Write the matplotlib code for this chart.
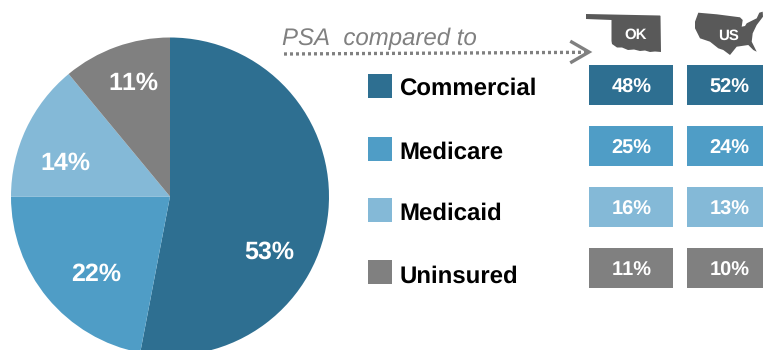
import matplotlib
matplotlib.use("Agg")
import matplotlib.pyplot as plt
from matplotlib.patches import Polygon, Rectangle

plt.rcParams['font.family'] = ['Liberation Sans', 'DejaVu Sans']
plt.rcParams['text.hinting'] = 'no_hinting'
plt.rcParams['text.hinting_factor'] = 1
plt.rcParams['text.kerning_factor'] = 16

W, H = 763, 350

categories = ["Commercial", "Medicare", "Medicaid", "Uninsured"]
colors = ["#2e6f91", "#4f9dc6", "#84b9d7", "#808080"]
psa_share = [53, 22, 14, 11]
ok_share = [48, 25, 16, 11]
us_share = [52, 24, 13, 10]

# rows of the table, top edge of tile / top edge of legend square
tile_tops = [65, 126, 187, 248]
square_tops = [74, 137, 198, 260]
label_baselines = [95, 158.7, 220.2, 282.3]

# rough state and country silhouettes
ok_shape = [(586, 14), (660, 15.5), (660.5, 16), (661, 52), (655, 51.5), (650, 52), (645, 50.5),
            (640, 51), (634, 49.5), (628, 50), (622, 47.5), (617, 47.5), (612, 44), (611.5, 41),
            (611.5, 20), (586, 19)]
us_shape = [(698.3, 12.7), (716.7, 14.3), (740, 17.3), (742.7, 20), (741.7, 26.7), (745, 26),
            (746.7, 23.3), (756.7, 18.3), (759.3, 12.7), (762.7, 11.7), (763, 16.7), (756.7, 25),
            (752.7, 33.3), (751.7, 41.7), (756.7, 51.7), (753.3, 50), (748.3, 45), (736.7, 46.7),
            (730, 55), (723.3, 50), (718.3, 48.3), (710, 41.7), (700, 38.3), (695, 28.3), (695, 21.7)]


def flip(y):
    # layout below is measured from the top edge
    return H - y


fig = plt.figure(figsize=(W / 100, H / 100), dpi=100, facecolor="white")
ax = fig.add_axes([0, 0, 1, 1])

# pie, clockwise from 12 o'clock
wedges, _ = ax.pie(psa_share, colors=colors, startangle=90, counterclock=False,
                   center=(170, flip(196.5)), radius=159, frame=True,
                   wedgeprops={"linewidth": 0})
ax.set_xlim(0, W)
ax.set_ylim(0, H)
ax.set_aspect("auto")
ax.axis("off")

pie_label_pos = [(269, 258.5), (96.5, 280.5), (65.5, 170), (133.5, 89.5)]
for val, (x, y) in zip(psa_share, pie_label_pos):
    ax.text(x, flip(y), f"{val}%", color="white", fontsize=18, fontweight="bold",
            ha="center", va="baseline")

# legend and the two comparison columns
for i, name in enumerate(categories):
    ax.add_patch(Rectangle((368, flip(square_tops[i] + 24)), 24, 24, color=colors[i], lw=0))
    ax.text(399.5, flip(label_baselines[i]), name, color="black", fontsize=17,
            fontweight="bold", ha="left", va="baseline")
    ax.add_patch(Rectangle((589, flip(tile_tops[i] + 40)), 84, 40, color=colors[i], lw=0))
    ax.add_patch(Rectangle((687, flip(tile_tops[i] + 40)), 84, 40, color=colors[i], lw=0))
    ax.text(631.5, flip(tile_tops[i] + 27.5), f"{ok_share[i]}%", color="white", fontsize=14.4,
            fontweight="bold", ha="center", va="baseline")
    ax.text(729.5, flip(tile_tops[i] + 27.5), f"{us_share[i]}%", color="white", fontsize=14.4,
            fontweight="bold", ha="center", va="baseline")

# maps above the columns
ax.add_patch(Polygon([(x, flip(y)) for x, y in ok_shape], closed=True, color="#595959", lw=0))
ax.add_patch(Polygon([(x, flip(y)) for x, y in us_shape], closed=True, color="#595959", lw=0))
ax.text(636, flip(39), "OK", color="white", fontsize=11, fontweight="bold", ha="center", va="baseline")
ax.text(729, flip(40), "US", color="white", fontsize=11, fontweight="bold", ha="center", va="baseline")

# dotted pointer to the maps
ax.text(282, flip(45.5), "PSA  compared to", color="#808080", fontsize=17, fontstyle="italic",
        ha="left", va="baseline")
ax.plot([284, 586], [flip(54), flip(52.3)], color="#808080", lw=2.4,
        linestyle=(0, (0.9, 0.9)), solid_capstyle="butt")
ax.plot([571.7, 589, 571.7], [flip(42), flip(52), flip(62)], color="#808080", lw=2.4,
        solid_joinstyle="miter")

fig.savefig("out.png", dpi=100, facecolor="white")
